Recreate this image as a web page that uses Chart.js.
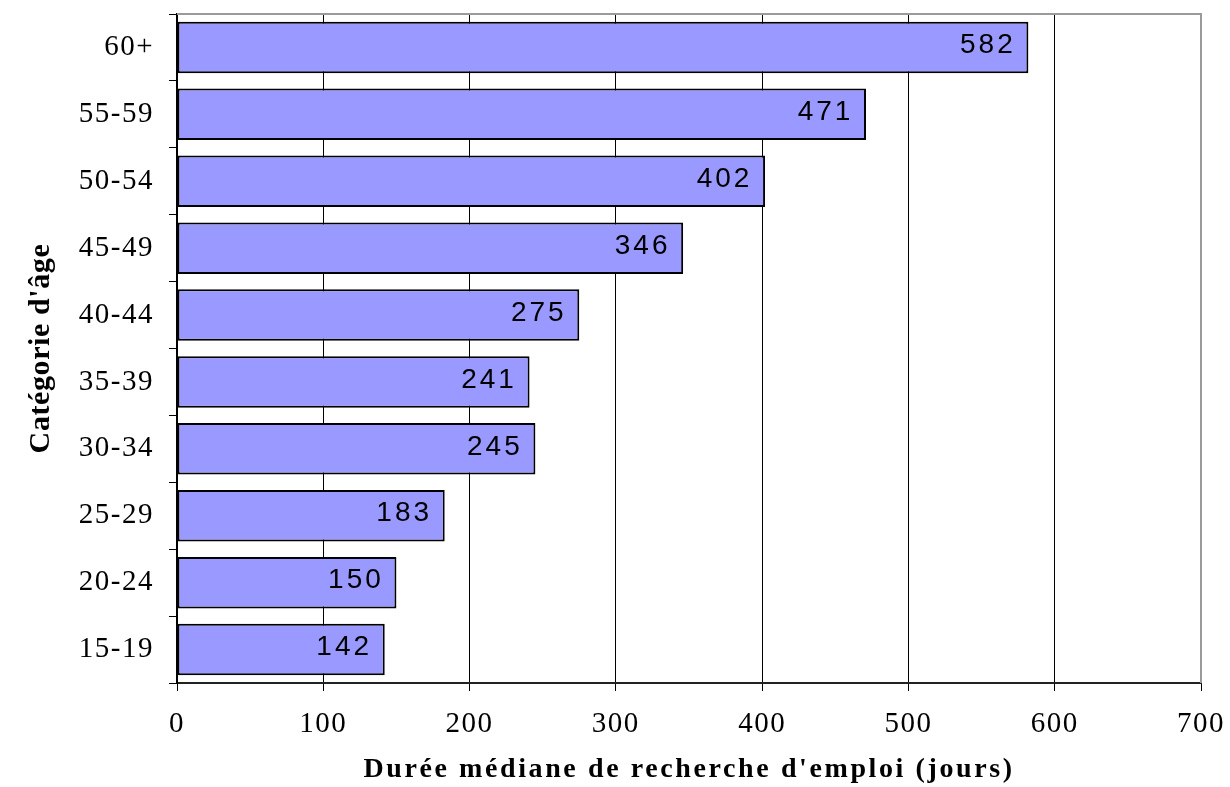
<!DOCTYPE html>
<html><head><meta charset="utf-8">
<script src="https://cdn.jsdelivr.net/npm/chart.js@4"></script>
<style>html,body{margin:0;padding:0;background:#fff}#wrap{width:1230px;height:787px}</style>
</head><body><div id="wrap"><canvas id="c" width="1230" height="787"></canvas></div>
<script>
const categories = ['60+','55-59','50-54','45-49','40-44','35-39','30-34','25-29','20-24','15-19'];
const durations = [582,471,402,346,275,241,245,183,150,142];
const xTicks = [0,100,200,300,400,500,600,700];
const xTitle = "Durée médiane de recherche d'emploi (jours)";
const yTitle = "Catégorie d'âge";
const SERIF = "'Liberation Serif','Times New Roman',serif";
const SANS = "'Liberation Sans',Arial,sans-serif";

function withSpacing(fn, spacing){
  return function(...args){
    const ctx = this.ctx; const prev = ctx.letterSpacing;
    ctx.letterSpacing = spacing;
    try { return fn.apply(this, args); } finally { ctx.letterSpacing = prev; }
  };
}
const spacingPlugin = { id:'spacing', afterLayout(chart){
  for (const [id, s] of Object.entries(chart.scales)) {
    if (s.__patched) continue; s.__patched = true;
    s.drawLabels = withSpacing(s.drawLabels, '1.5px');
    s.drawTitle = withSpacing(s.drawTitle, id === 'x' ? '2.6px' : '0.6px');
  }
}};
const framePlugin = { id:'frame', beforeDatasetsDraw(chart){
  const {ctx, chartArea:a} = chart;
  ctx.save(); ctx.strokeStyle = '#9a9a9a'; ctx.lineWidth = 2;
  ctx.beginPath(); ctx.moveTo(a.left, a.top); ctx.lineTo(a.right, a.top); ctx.lineTo(a.right, a.bottom); ctx.stroke();
  ctx.restore();
}};
const valuePlugin = { id:'values', afterDatasetsDraw(chart){
  const ctx = chart.ctx; const meta = chart.getDatasetMeta(0);
  ctx.save(); ctx.font = '28px ' + SANS; ctx.fillStyle = '#000'; ctx.textBaseline = 'middle'; ctx.textAlign = 'left';
  meta.data.forEach((bar, i) => {
    const txt = String(chart.data.datasets[0].data[i]);
    ctx.letterSpacing = '0px';
    const w = ctx.measureText(txt).width + 3 * (txt.length - 1);
    ctx.letterSpacing = '3px';
    ctx.fillText(txt, bar.x - 42 - w / 2, bar.y - 2);
  });
  ctx.restore();
}};
function noPad(s){ s.paddingTop = 0; s.paddingBottom = 0; s.paddingLeft = 0; s.paddingRight = 0; }

new Chart(document.getElementById('c'), {
  type: 'bar',
  data: { labels: categories, datasets: [{ data: durations, backgroundColor: '#9999ff', borderColor: '#000', borderWidth: 2, borderSkipped: false, barPercentage: 0.77, categoryPercentage: 1 }] },
  options: {
    indexAxis: 'y', responsive: false, animation: false, devicePixelRatio: 1,
    layout: { padding: { top: 14, right: 29, left: 0, bottom: 0 } },
    plugins: { legend: { display: false }, tooltip: { enabled: false } },
    scales: {
      x: { type: 'linear', position: 'bottom', min: 0, max: 700,
        afterBuildTicks(s){ s.ticks = xTicks.map(v => ({ value: v })); },
        afterFit(s){ s.height = 104; noPad(s); },
        grid: { color: '#000', lineWidth: 1, tickLength: 8, drawTicks: true },
        border: { display: true, color: '#222', width: 2 },
        ticks: { font: { family: SERIF, size: 29 }, color: '#000', padding: 16, maxRotation: 0, autoSkip: false },
        title: { display: true, text: xTitle, font: { family: SERIF, size: 28, weight: 'bold' }, color: '#000', padding: { top: 0, bottom: 0 } } },
      y: { type: 'category',
        afterFit(s){ s.width = 177; noPad(s); },
        grid: { offset: true, drawOnChartArea: false, color: '#000', tickLength: 8 },
        border: { display: true, color: '#000', width: 2 },
        ticks: { font: { family: SERIF, size: 29 }, color: '#000', padding: 15, autoSkip: false },
        title: { display: true, text: yTitle, font: { family: SERIF, size: 30, weight: 'bold' }, color: '#000', padding: { top: 23, bottom: 0 } } }
    }
  },
  plugins: [spacingPlugin, framePlugin, valuePlugin]
});
</script></body></html>
